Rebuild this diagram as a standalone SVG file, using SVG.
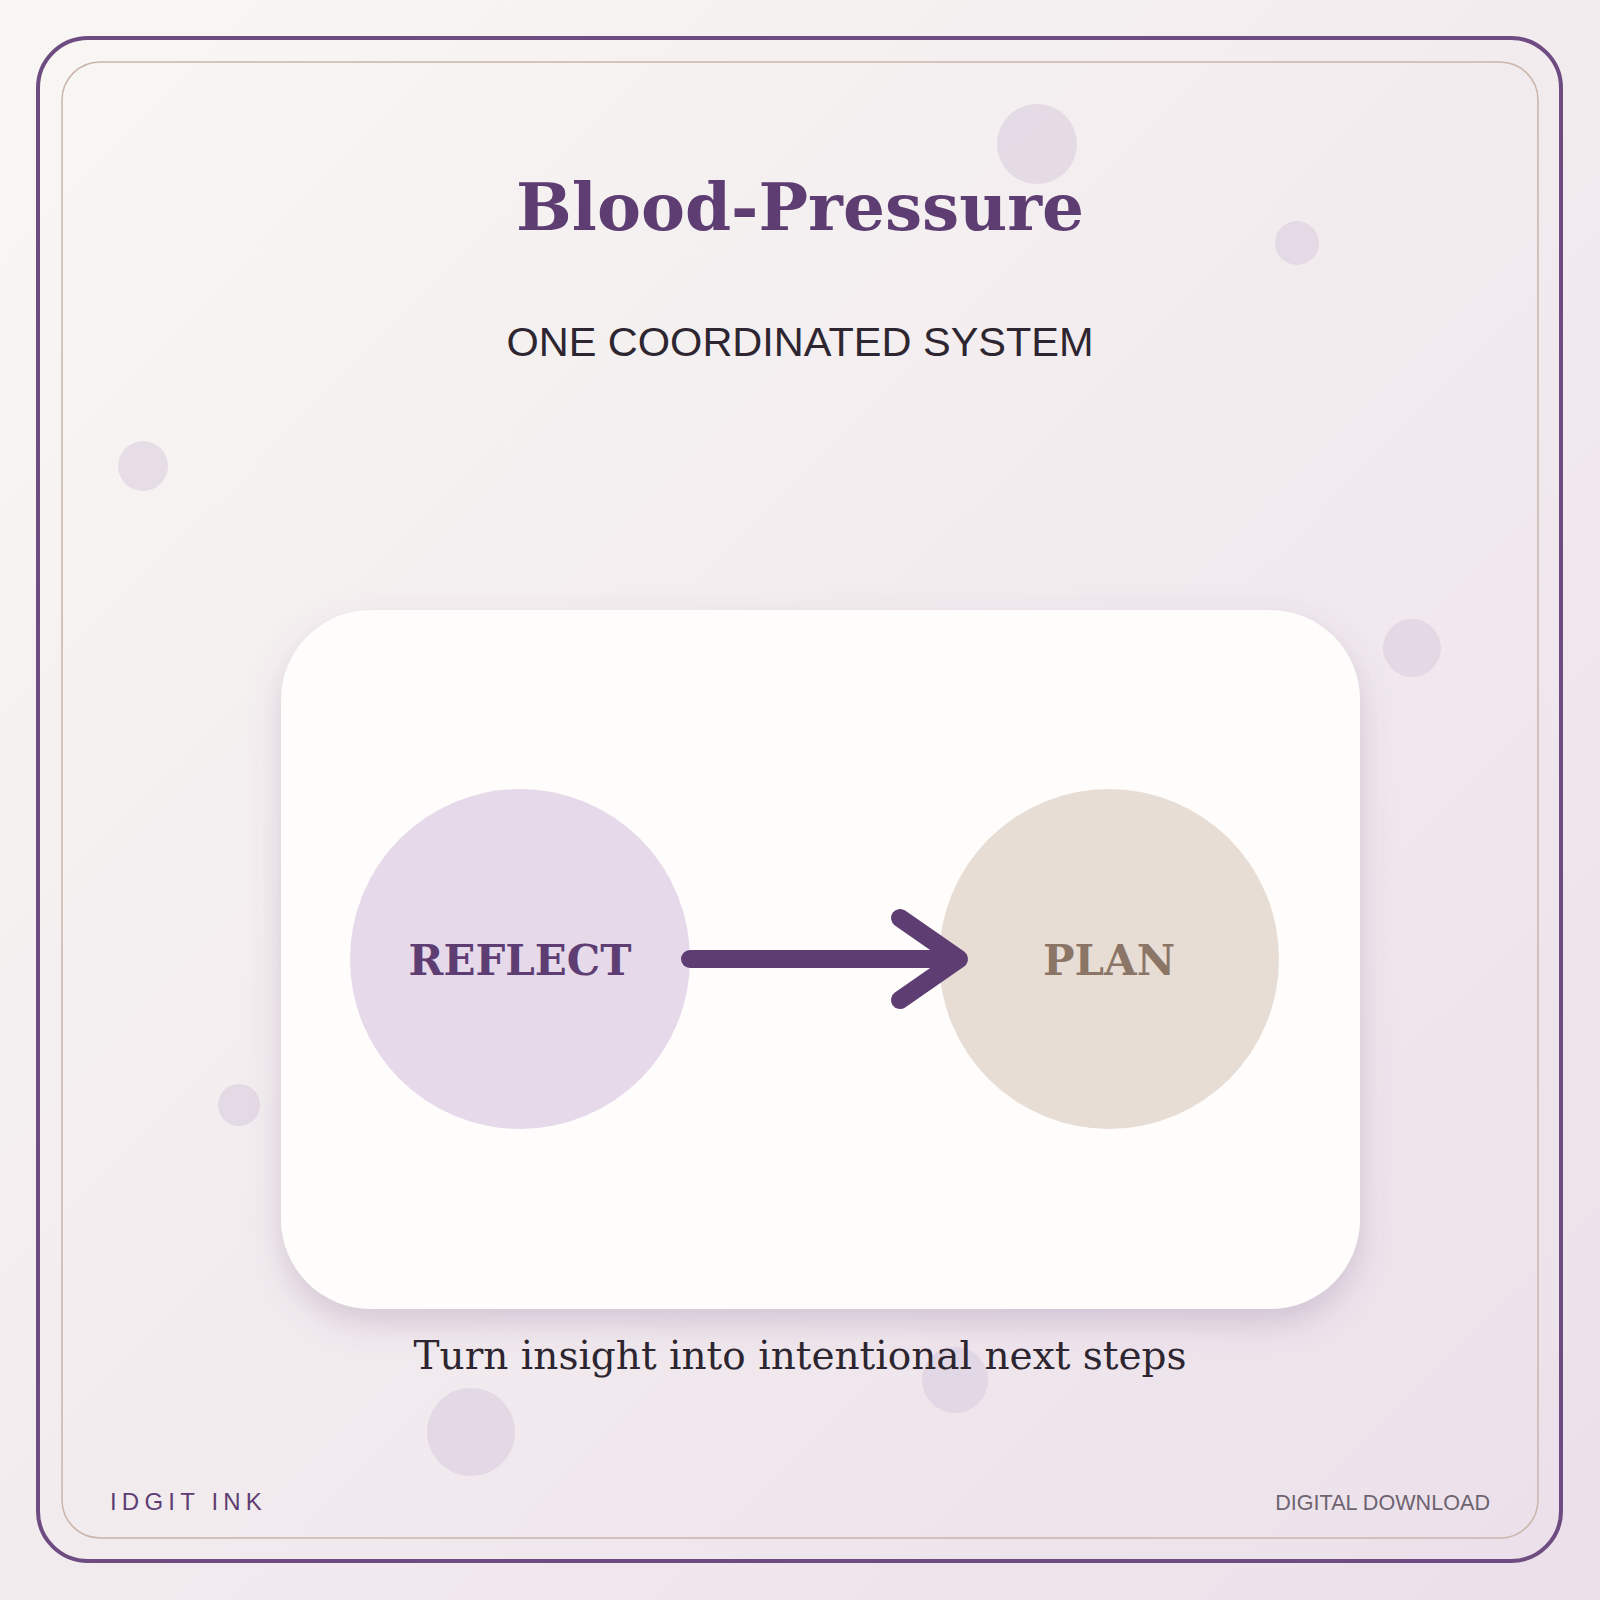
<svg xmlns="http://www.w3.org/2000/svg" width="1600" height="1600" viewBox="0 0 1600 1600">
<defs>
<linearGradient id="bg" x1="0" y1="0" x2="1" y2="1"><stop offset="0" stop-color="#f9f7f3"/><stop offset="1" stop-color="#ebe0ea"/></linearGradient>
<filter id="sh" x="-20%" y="-20%" width="140%" height="140%"><feDropShadow dx="0" dy="14" stdDeviation="16" flood-color="#7a5a8a" flood-opacity="0.25"/></filter>
<style>
.b{fill:#d6c8dc;opacity:.5}
.serif{font-family:"DejaVu Serif","Liberation Serif",serif}
.sans{font-family:"Liberation Sans",Arial,sans-serif}
</style>
</defs>
<rect width="1600" height="1600" fill="url(#bg)"/>
<g id="bubbles">
<circle class="b" cx="1037" cy="144" r="40"/><circle class="b" cx="1297" cy="243" r="22"/>
<circle class="b" cx="143" cy="466" r="25"/><circle class="b" cx="1412" cy="648" r="29"/>
<circle class="b" cx="239" cy="1105" r="21"/><circle class="b" cx="955" cy="1380" r="33"/>
<circle class="b" cx="471" cy="1432" r="44"/>
</g>
<rect x="38" y="38" width="1523" height="1523" rx="50" fill="none" stroke="#6e4c82" stroke-width="4"/>
<rect x="62" y="62" width="1476" height="1476" rx="38" fill="none" stroke="#c9b5aa" stroke-width="1.5"/>
<text x="800" y="230" text-anchor="middle" class="serif" font-weight="bold" font-size="66" fill="#5e3d73">Blood-Pressure</text>
<text x="800" y="356" text-anchor="middle" class="sans" font-size="41.5" fill="#2d2630">ONE COORDINATED SYSTEM</text>
<g id="card"><rect x="281" y="610" width="1079" height="699" rx="90" fill="#fefdfb" filter="url(#sh)"/></g>
<g id="reflect"><circle cx="520" cy="959" r="170" fill="#e5d9ea"/>
<text x="520" y="975" text-anchor="middle" class="serif" font-weight="bold" font-size="42" fill="#5e3d73">REFLECT</text></g>
<g id="plan"><circle cx="1109" cy="959" r="170" fill="#e8ddd5"/>
<text x="1109" y="975" text-anchor="middle" class="serif" font-weight="bold" font-size="42" fill="#8a7566">PLAN</text></g>
<g id="connectors" fill="none" stroke="#5e3d73" stroke-width="18" stroke-linecap="round" stroke-linejoin="round">
<path d="M690 959 H955"/><path d="M900 918 L959 959 L900 1000"/>
</g>
<text x="800" y="1369" text-anchor="middle" class="serif" font-size="39" fill="#2d2630">Turn insight into intentional next steps</text>
<text x="110" y="1510" class="sans" font-size="24" letter-spacing="5.2" fill="#5e3d73">IDGIT INK</text>
<text x="1490" y="1510" text-anchor="end" class="sans" font-size="21.6" fill="#6f6370">DIGITAL DOWNLOAD</text>
</svg>
